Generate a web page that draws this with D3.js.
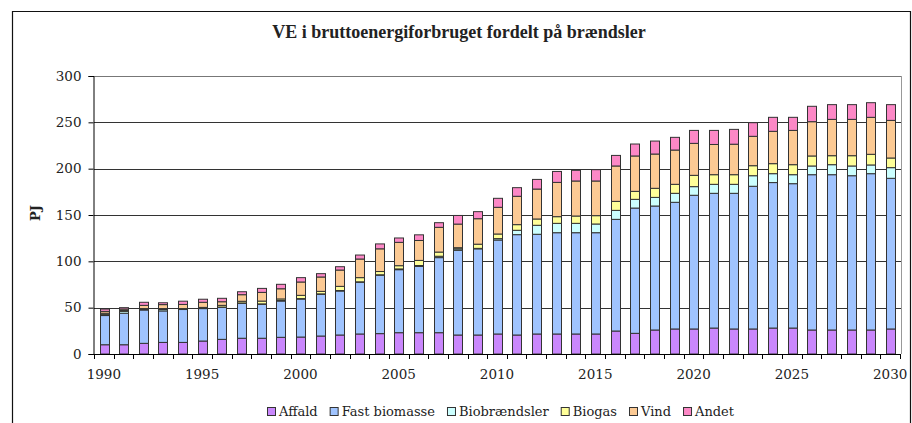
<!DOCTYPE html>
<html>
<head>
<meta charset="utf-8">
<script src="https://cdn.jsdelivr.net/npm/d3@7"></script>
<style>
  body { margin: 0; background: #fff; }
  svg { display: block; }
  text { font-family: "DejaVu Serif", serif; fill: #222; }
</style>
</head>
<body>
<svg></svg>
<script>
/* jslint esversion:6 */

var years = d3.range(1990, 2031);

var seriesNames = ["Affald", "Fast biomasse", "Biobrændsler", "Biogas", "Vind", "Andet"];

var affald = [10, 10, 11.5, 12.5, 12.5, 14, 15.8, 17, 17, 18,
  18.3, 19.4, 20.5, 21.6, 22, 23, 23, 23, 20.5, 20.5,
  21.6, 20.5, 21.6, 21.6, 21.6, 21.6, 24.8, 22.3, 25.9, 27,
  27, 28, 27, 27, 28, 28, 25.9, 25.9, 25.9, 25.9, 27];

var fastBiomasse = [31.5, 34, 36, 34, 35.5, 35, 34.6, 37.7, 36.6, 39.2,
  41, 45, 47.5, 55.8, 63, 68, 71.5, 81, 91.4, 93,
  101.4, 108.3, 107.6, 109.3, 109.3, 109.3, 120.5, 135.2, 133.8, 136.7,
  144.3, 145.4, 146.4, 154, 157, 155.8, 167.6, 167.6, 166.5, 168.7, 162.6];

var biobraendsler = [1, 2, 1, 1.5, 0.5, 0.8, 0.3, 0.4, 0.5, 0.5,
  0.5, 0.5, 0.5, 0.5, 0.5, 0.8, 1, 1.5, 1.5, 0.5,
  1.5, 4.7, 9.7, 10.1, 10.1, 9.4, 9.7, 9.4, 9.3, 9.7,
  9.3, 9.7, 9.7, 11.4, 9.6, 9.7, 9.4, 10.8, 10.5, 9.4, 11.5];

var biogas = [1.5, 1, 0.5, 1, 0.5, 0.5, 1.8, 1.8, 3, 1.7,
  3.5, 2.7, 4.5, 4.5, 3.5, 3.5, 5.5, 4.5, 1.3, 4.5,
  5, 6.1, 6.8, 7.2, 7.9, 9, 9.7, 8.6, 9.8, 9.7,
  12.2, 10.4, 10.4, 10.8, 10.8, 10.8, 10.8, 9.7, 11.1, 11.5, 10.4];

var vind = [2, 1.5, 3.5, 4.3, 4.5, 5.5, 3.9, 7.1, 9.4, 11,
  14.4, 15.5, 17.6, 20.1, 24.5, 25.2, 21.5, 26.7, 25.5, 27.5,
  28.8, 30.6, 32.3, 37, 37.8, 37.4, 38.2, 38.2, 37, 37,
  34.5, 32.6, 32.9, 31.7, 34.9, 37, 37, 39.2, 39.2, 39.9, 40.6];

var andet = [2.5, 1.5, 3.3, 2, 3.5, 3.3, 3.7, 3.2, 4.3, 4.8,
  4.7, 3.6, 3.6, 4.3, 5.3, 4.7, 6.1, 5, 9.3, 7.6,
  9.7, 9.3, 10.4, 11.8, 11.5, 12.2, 11.4, 12.9, 14, 13.7,
  14, 15.2, 16, 14.7, 15.1, 14.1, 16.6, 15.9, 15.9, 15.8, 17];

var yTicks = [0, 50, 100, 150, 200, 250, 300];
var xLabelYears = [1990, 1995, 2000, 2005, 2010, 2015, 2020, 2025, 2030];

document.addEventListener("DOMContentLoaded", function() {

  var width = 912;
  var height = 423;
  var left = 94, right = 900, top = 76, bottom = 354;

  var colors = ["#c987fc", "#a0c4ff", "#ccffff", "#ffff99", "#fcca94", "#fc88c6"];

  var table = years.map(function(y, i) {
    return {
      year: y,
      "Affald": affald[i],
      "Fast biomasse": fastBiomasse[i],
      "Biobrændsler": biobraendsler[i],
      "Biogas": biogas[i],
      "Vind": vind[i],
      "Andet": andet[i]
    };
  });

  var stacked = d3.stack().keys(seriesNames)(table);

  var xScale = d3.scaleBand()
                 .domain(years)
                 .range([left, right])
                 .paddingInner(0.56)
                 .paddingOuter(0.28);

  var yScale = d3.scaleLinear()
                 .domain([0, 300])
                 .range([bottom, top]);

  var colorScale = d3.scaleOrdinal()
                     .domain(seriesNames)
                     .range(colors);

  var svg = d3.select("svg")
      .attr("width", width)
      .attr("height", height);

  // outer frame of the chart object
  svg.append("path")
      .attr("d", "M12.5,430V11.5H910.5V430")
      .attr("fill", "none")
      .attr("stroke", "#111")
      .attr("stroke-width", 1.2);

  svg.append("text")
      .text("VE i bruttoenergiforbruget fordelt på brændsler")
      .attr("x", 459)
      .attr("y", 38)
      .style("text-anchor", "middle")
      .style("font-family", "'Liberation Serif', serif")
      .style("font-weight", "bold")
      .style("font-size", "18px");

  // gridlines
  svg.append("g")
    .selectAll("line")
    .data(yTicks.filter(d => d > 0))
    .enter()
    .append("line")
      .attr("x1", left)
      .attr("x2", right + 1)
      .attr("y1", d => Math.round(yScale(d)) + 0.5)
      .attr("y2", d => Math.round(yScale(d)) + 0.5)
      .attr("stroke", d => d === 300 ? "#777" : "#333")
      .attr("stroke-width", 1);

  // right edge of plot area
  svg.append("line")
      .attr("x1", right + 1.5).attr("x2", right + 1.5)
      .attr("y1", yScale(300)).attr("y2", bottom)
      .attr("stroke", "#999");

  // bars
  svg.append("g")
    .selectAll("g")
    .data(stacked)
    .enter()
    .append("g")
      .attr("fill", d => colorScale(d.key))
    .selectAll("rect")
    .data(d => d)
    .enter()
    .append("rect")
      .attr("x", d => Math.round(xScale(d.data.year)) + 0.5)
      .attr("width", Math.round(xScale.bandwidth()))
      .attr("y", d => yScale(d[1]))
      .attr("height", d => yScale(d[0]) - yScale(d[1]))
      .attr("stroke", "#333")
      .attr("stroke-width", 1);

  // y axis
  var yAxis = d3.axisLeft(yScale)
                .tickValues(yTicks)
                .tickSize(5)
                .tickPadding(7);

  var gy = svg.append("g")
      .attr("transform", "translate(" + (left - 0.5) + ",0)")
      .call(yAxis);
  gy.select(".domain").attr("stroke", "#000");
  gy.selectAll("line").attr("stroke", "#000");
  gy.selectAll("text")
      .style("font-family", "'DejaVu Serif', serif")
      .style("font-size", "13.5px")
      .attr("fill", "#333");

  // x axis: ticks sit between the bars
  var step = xScale.step();
  var tickPos = years.map(y => xScale(y) - step * xScale.paddingInner() / 2);
  tickPos.push(right);

  svg.append("line")
      .attr("x1", left - 1).attr("x2", right + 1)
      .attr("y1", bottom + 0.5).attr("y2", bottom + 0.5)
      .attr("stroke", "#000");

  svg.append("g")
    .selectAll("line")
    .data(tickPos)
    .enter()
    .append("line")
      .attr("x1", d => Math.round(d) + 0.5)
      .attr("x2", d => Math.round(d) + 0.5)
      .attr("y1", bottom)
      .attr("y2", bottom + 5)
      .attr("stroke", "#000");

  svg.append("g")
    .selectAll("text")
    .data(xLabelYears)
    .enter()
    .append("text")
      .text(d => d)
      .attr("x", d => xScale(d) + xScale.bandwidth() / 2)
      .attr("y", 379)
      .style("text-anchor", "middle")
      .style("font-size", "13.5px")
      .attr("fill", "#333");

  svg.append("text")
      .text("PJ")
      .attr("transform", "translate(40,213) rotate(-90)")
      .style("text-anchor", "middle")
      .style("font-weight", "bold")
      .style("font-size", "13px");

  // legend
  var legend = svg.append("g");
  var lx = 0;
  seriesNames.forEach(function(name) {
    var item = legend.append("g").attr("transform", "translate(" + lx + ",0)");
    item.append("rect")
        .attr("x", 0.5).attr("y", -8.5)
        .attr("width", 8).attr("height", 8)
        .attr("fill", colorScale(name))
        .attr("stroke", "#333");
    var t = item.append("text")
        .text(name)
        .attr("x", 12)
        .attr("y", 0)
        .style("font-size", "13px");
    lx += 12 + t.node().getComputedTextLength() + 12;
  });
  var legendWidth = lx - 12;
  legend.attr("transform", "translate(" + Math.round(501 - legendWidth / 2) + ",416)");
});
</script>
</body>
</html>
